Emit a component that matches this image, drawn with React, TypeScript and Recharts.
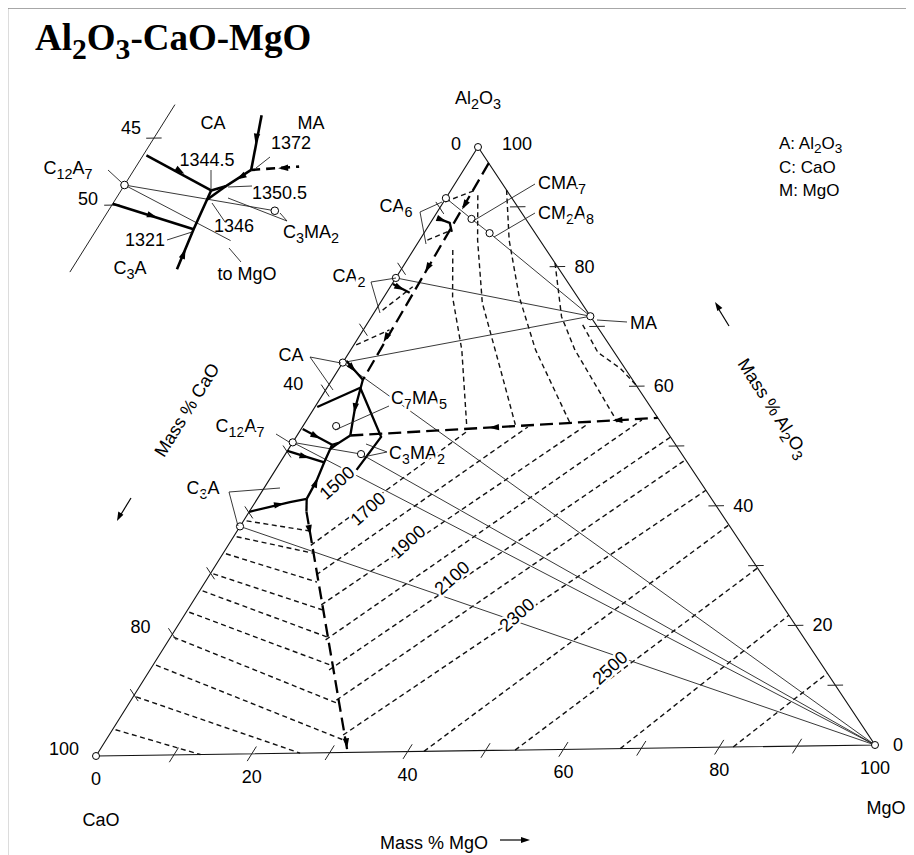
import React from 'react';
import { ScatterChart, Scatter, XAxis, YAxis } from 'recharts';

// A composition is [mass % MgO, mass % Al2O3]; CaO is the remainder.
type Comp = [number, number];

// ---------- geometry of the ternary drawing ----------
const PX_X = 779; // pixels per unit along CaO -> MgO
const PX_Y = 609; // pixels per unit of Al2O3 height
const SKEW = 382 / 779; // horizontal offset of the Al2O3 corner
const TILT = 11 / 609; // the MgO corner sits slightly higher than CaO
const CHART_W = 898;
const CHART_H = 840;
const CAO_X = 88; // CaO corner inside the chart box
const CAO_Y = 748;
const X_LO = -CAO_X / PX_X;
const X_HI = X_LO + CHART_W / PX_X;
const Y_HI = CAO_Y / PX_Y;
const Y_LO = Y_HI - CHART_H / PX_Y;

const toXY = ([m, a]: Comp) => ({ x: (m + SKEW * a) / 100, y: (a + TILT * m) / 100 });
const pagePx = (c: Comp) => {
  const p = toXY(c);
  return { x: 8 + CAO_X + p.x * PX_X, y: 8 + CAO_Y - p.y * PX_Y };
};

// ---------- data ----------
const corners: Comp[] = [[0, 0], [100, 0], [0, 100]];

const compoundNames = ['CA6', 'CMA7', 'CM2A8', 'CA2', 'MA', 'CA', 'C7MA5', 'C12A7', 'C3MA2', 'C3A'];
const compoundComps: Comp[] = [
  [0, 91.6], [5.0, 88.1], [8.5, 85.7], [0, 78.5], [28.3, 71.7],
  [0, 64.6], [4.3, 54.1], [0, 51.5], [9.8, 49.4], [0, 37.7],
];

const tickValues = [10, 20, 30, 40, 50, 60, 70, 80, 90];
const mgoTickLabels = [0, 20, 40, 60, 80, 100];
const al2o3TickLabels = [20, 40, 60, 80];
const caoTickLabels = [100, 80, 40];

// compatibility joins
const tieLines: Comp[][] = [
  [[0, 91.6], [5.0, 88.1], [8.5, 85.7], [28.3, 71.7]],
  [[0, 78.5], [28.3, 71.7]],
  [[0, 64.6], [28.3, 71.7]],
  [[0, 64.6], [100, 0]],
  [[0, 51.5], [100, 0]],
  [[9.8, 49.4], [100, 0]],
  [[0, 37.7], [100, 0]],
  [[0, 51.5], [9.8, 49.4]],
];

// field boundaries, heavy solid
const boundarySolid: Comp[][] = [
  [[0, 40.1], [4.5, 41.6], [6.4, 42.1]],
  [[6.4, 42.1], [7.4, 40.0]],
  [[6.4, 42.1], [6.2, 45.1], [5.7, 48.1], [5.4, 50.3], [5.3, 51.0]],
  [[0, 50.1], [5.7, 48.1]],
  [[0.2, 53.7], [5.3, 51.0]],
  [[5.3, 51.0], [6.0, 51.3], [6.9, 52.5]],
  [[5.4, 50.3], [6.0, 51.3]],
  [[6.9, 52.5], [5.4, 56.7], [4.0, 61.7]],
  [[0.3, 57.3], [4.3, 60.4]],
  [[4.3, 60.4], [11.0, 52.2], [10.5, 46.8]],
  [[0.3, 64.9], [4.0, 61.7]],
  [[0.5, 88.3], [2.5, 87.5], [3.5, 86.0]],
  [[0.1, 77.5], [3.0, 76.0]],
];

// field boundaries, heavy dashed
const boundaryDashed: Comp[][] = [
  [[2.7, 97.3], [4.0, 61.7]],
  [[6.9, 52.5], [45.3, 54.7]],
  [[7.4, 40.0], [32.3, 0]],
];

// direction arrows on boundaries: [position, a point further along]
const arrowsMain: [Comp, Comp][] = [
  [[9.5, 36.6], [32.3, 0]],
  [[31.6, 1.2], [32.3, 0]],
  [[24.6, 53.5], [6.9, 52.5]],
  [[40.0, 54.4], [24.6, 53.5]],
  [[3.0, 90.1], [4.0, 61.7]],
  [[3.3, 79.8], [4.0, 61.7]],
  [[3.6, 68.3], [4.0, 61.7]],
  [[5.4, 56.7], [6.9, 52.5]],
  [[3.5, 41.3], [6.4, 42.1]],
  [[6.2, 45.1], [5.7, 48.1]],
  [[3.0, 49.0], [5.7, 48.1]],
  [[2.8, 52.3], [5.3, 51.0]],
  [[1.5, 87.9], [2.5, 87.5]],
  [[1.6, 76.7], [3.0, 76.0]],
  [[2.0, 63.4], [4.0, 61.7]],
];

// liquidus isotherms, CaO field
const isoCaO: Comp[][] = [
  [[0.4, 38.6], [9.3, 36.8]],
  [[0.4, 36.0], [11.6, 33.1]],
  [[0.4, 33.2], [14.5, 28.3]],
  [[0.4, 29.9], [17.4, 23.7]],
  [[0.4, 27.1], [20.2, 19.2]],
  [[0.4, 23.6], [23.0, 14.5]],
  [[0.4, 19.5], [26.9, 8.2]],
  [[0.4, 14.9], [30.7, 2.1]],
  [[0.4, 9.7], [26.2, 0]],
  [[0.4, 4.3], [13.4, 0]],
];

// liquidus isotherms, MgO field
const isoMgO: Comp[][] = [
  [[10.7, 34.4], [21.8, 53.1]],
  [[13.8, 29.5], [29.2, 53.5]],
  [[16.9, 24.5], [36.7, 53.8]],
  [[20.3, 18.7], [43.4, 54.4]],
  [[23.2, 13.7], [48.5, 51.5]],
  [[26.6, 8.7], [52.3, 47.7]],
  [[30.3, 2.9], [57.4, 42.6]],
  [[42.1, 0], [63.2, 36.8]],
  [[53.8, 0], [70.4, 29.6]],
  [[67.3, 0], [78.3, 21.7]],
  [[81.8, 0], [88.0, 12.0]],
];

// liquidus isotherms, spinel and aluminate fields
const isoOther: Comp[][] = [
  [[5.1, 83.0], [8.9, 75.2], [14.4, 66.4], [21.1, 54.0]],
  [[3.9, 92.0], [7.5, 84.6], [13.2, 74.2], [21.4, 62.5], [27.4, 53.9]],
  [[7.2, 92.8], [11.6, 84.5], [17.5, 75.1], [23.9, 66.3], [34.3, 54.1]],
  [[19.4, 80.6], [24.6, 71.7], [29.0, 66.2], [40.4, 54.1]],
  [[28.0, 70.3], [32.2, 65.7], [36.4, 63.0], [39.8, 60.2]],
  [[0.2, 91.0], [3.1, 92.8]],
  [[1.0, 84.7], [3.3, 86.3]],
  [[0.9, 73.2], [2.9, 77.0]],
  [[0.3, 67.5], [3.4, 69.9]],
];

// detail of the low-melting region around C12A7 (drawn enlarged)
const insetEdge: Comp[] = [[0, 57.5], [0, 45.0]];
const insetTicks: Comp[][] = [
  [[-0.45, 55], [0.45, 55]],
  [[-0.45, 50], [0.45, 50]],
];
const insetCompounds: Comp[] = [[0, 51.5], [9.8, 49.4]];
const insetSolid: Comp[][] = [
  [[0.2, 53.7], [5.3, 51.0]],
  [[0, 50.1], [5.7, 48.1]],
  [[6.2, 45.1], [5.7, 48.1], [5.4, 50.3], [5.3, 51.0]],
  [[5.3, 51.0], [6.0, 51.3], [6.9, 52.5]],
  [[5.4, 50.3], [6.0, 51.3]],
  [[6.9, 52.5], [5.5, 56.6]],
];
const insetDashed: Comp[][] = [[[6.9, 52.5], [9.6, 52.7]]];
const insetThin: Comp[][] = [
  [[0, 51.5], [9.8, 49.4]],
  [[0, 51.5], [8.3, 47.2]],
];
const insetArrows: [Comp, Comp][] = [
  [[2.9, 52.4], [5.3, 51.0]],
  [[2.9, 49.1], [5.7, 48.1]],
  [[6.0, 46.4], [5.7, 48.1]],
  [[6.1, 54.7], [6.9, 52.5]],
  [[6.5, 51.9], [6.0, 51.3]],
  [[8.6, 52.6], [6.9, 52.5]],
];

// inset placement
const INSET_K = 2.2;
const INSET_W = 340;
const INSET_H = 300;
const INSET_ANCHOR = { x: 124.5, y: 185 }; // page position of C12A7 in the detail
const c12a7Page = pagePx([0, 51.5]);
const IX_LO = (c12a7Page.x - INSET_ANCHOR.x / INSET_K - 8 - CAO_X) / PX_X;
const IX_HI = IX_LO + INSET_W / (INSET_K * PX_X);
const IY_HI = (8 + CAO_Y - (c12a7Page.y - INSET_ANCHOR.y / INSET_K)) / PX_Y;
const IY_LO = IY_HI - INSET_H / (INSET_K * PX_Y);

// ---------- drawing helpers ----------
const FONT = '"Liberation Sans", Arial, Helvetica, sans-serif';
const noShape = () => <g />;

const arrowData = (list: [Comp, Comp][]) =>
  list.map(([p, q]) => {
    const a = toXY(p);
    const b = toXY(q);
    const ang = (Math.atan2(-(b.y - a.y) * PX_Y, (b.x - a.x) * PX_X) * 180) / Math.PI;
    return { ...a, ang };
  });

const ArrowShape = (props: any) => {
  const { cx, cy, payload } = props;
  return (
    <path
      d="M3,0 L-7,-3.2 L-7,3.2 Z"
      transform={`translate(${cx},${cy}) rotate(${payload.ang})`}
      fill="#000"
    />
  );
};

const OpenCircle = (r: number, sw: number) => (props: any) => (
  <circle cx={props.cx} cy={props.cy} r={r} fill="#fff" stroke="#000" strokeWidth={sw} />
);

const line = (pts: Comp[], key: string, style: Record<string, any>) => (
  <Scatter
    key={key}
    data={pts.map(toXY)}
    line={{ fill: 'none', ...style }}
    shape={noShape}
    isAnimationActive={false}
  />
);

const THIN = { stroke: '#222', strokeWidth: 0.9 };
const ISO = { stroke: '#111', strokeWidth: 1.4, strokeDasharray: '5 3.5' };
const HEAVY = { stroke: '#000', strokeWidth: 2.3 };
const HEAVY_DASH = { stroke: '#000', strokeWidth: 2.3, strokeDasharray: '13 6' };
const TICK = { stroke: '#222', strokeWidth: 1 };

// text with chemical subscripts written as _{..}
function Chem(props: {
  x: number; y: number; t: string; size?: number; anchor?: 'start' | 'middle' | 'end';
  rot?: number; halo?: boolean; weight?: string | number; family?: string;
}) {
  const { x, y, t, size = 18, anchor = 'middle', rot = 0, halo = false, weight = 'normal', family = FONT } = props;
  const parts = t.split(/(_\{[^}]*\})/).filter(Boolean);
  const sub = size * 0.32;
  let shift = 0;
  const spans = parts.map((p, i) => {
    if (p.startsWith('_{')) {
      const el = (
        <tspan key={i} dy={sub - shift} fontSize={size * 0.8}>
          {p.slice(2, -1)}
        </tspan>
      );
      shift = sub;
      return el;
    }
    const el = (
      <tspan key={i} dy={-shift}>
        {p}
      </tspan>
    );
    shift = 0;
    return el;
  });
  return (
    <text
      x={x}
      y={y}
      fontSize={size}
      fontFamily={family}
      fontWeight={weight}
      textAnchor={anchor}
      dominantBaseline="central"
      transform={rot ? `rotate(${rot} ${x} ${y})` : undefined}
      fill="#000"
      stroke={halo ? '#fff' : undefined}
      strokeWidth={halo ? 5 : undefined}
      paintOrder={halo ? 'stroke' : undefined}
    >
      {spans}
    </text>
  );
}

// ---------- annotation layout (page pixels) ----------
const compoundLabels: { t: string; x: number; y: number; anchor?: 'start' | 'middle' | 'end' }[] = [
  { t: 'CA_{6}', x: 396, y: 206 },
  { t: 'CMA_{7}', x: 538, y: 183, anchor: 'start' },
  { t: 'CM_{2}A_{8}', x: 538, y: 213, anchor: 'start' },
  { t: 'CA_{2}', x: 349, y: 276 },
  { t: 'MA', x: 630, y: 323, anchor: 'start' },
  { t: 'CA', x: 291, y: 355 },
  { t: 'C_{7}MA_{5}', x: 391, y: 398, anchor: 'start' },
  { t: 'C_{12}A_{7}', x: 240, y: 426 },
  { t: 'C_{3}MA_{2}', x: 389, y: 453, anchor: 'start' },
  { t: 'C_{3}A', x: 203, y: 488 },
];
const leaders: [number, number][][] = [
  [[442, 202], [420, 212], [426, 244]],
  [[535, 184], [473, 221]],
  [[535, 213], [494, 237]],
  [[396, 278], [371, 282], [380, 313]],
  [[627, 322], [597, 320]],
  [[341, 363], [310, 357], [333, 390]],
  [[389, 406], [335, 430]],
  [[276, 434], [289, 442]],
  [[387, 452], [363, 457]],
  [[387, 452], [366, 444]],
  [[238, 526], [229, 492], [280, 488]],
  // detail panel
  [[108, 170], [121, 182]],
  [[211, 170], [211, 190]],
  [[252, 186], [228, 187]],
  [[225, 222], [212, 203]],
  [[167, 240], [192, 232]],
  [[270, 157], [256, 168]],
  [[287, 221], [280, 213]],
  [[287, 221], [228, 198]],
  [[229, 248], [241, 262]],
];
const isoLabels: { t: string; x: number; y: number }[] = [
  { t: '1500', x: 337, y: 483 },
  { t: '1700', x: 368, y: 509 },
  { t: '1900', x: 408, y: 542 },
  { t: '2100', x: 452, y: 578 },
  { t: '2300', x: 517, y: 615 },
  { t: '2500', x: 610, y: 668 },
];
const insetLabels: { t: string; x: number; y: number; anchor?: 'start' | 'middle' | 'end' }[] = [
  { t: '45', x: 131, y: 128 },
  { t: '50', x: 88, y: 199 },
  { t: 'CA', x: 213, y: 123 },
  { t: 'MA', x: 311, y: 123 },
  { t: 'C_{12}A_{7}', x: 68, y: 168 },
  { t: '1372', x: 271, y: 143, anchor: 'start' },
  { t: '1344.5', x: 207, y: 160 },
  { t: '1350.5', x: 252, y: 193, anchor: 'start' },
  { t: '1346', x: 214, y: 226, anchor: 'start' },
  { t: '1321', x: 145, y: 240 },
  { t: 'C_{3}MA_{2}', x: 283, y: 232, anchor: 'start' },
  { t: 'C_{3}A', x: 130, y: 268 },
  { t: 'to MgO', x: 247, y: 274 },
];

export default function App() {
  const tickSegs: Comp[][] = [];
  tickValues.forEach((v) => {
    tickSegs.push([[v, -1.2], [v, 1.2]]);
    tickSegs.push([[100 - v - 1.0, v], [100 - v + 1.0, v]]);
    tickSegs.push([[-1.0, 100 - v + 1.0], [1.0, 100 - v - 1.0]]);
  });

  const apex = pagePx([0, 100]);
  const caoC = pagePx([0, 0]);
  const mgoC = pagePx([100, 0]);

  return (
    <div style={{ position: 'relative', width: CHART_W, height: 847 }}>
      <ScatterChart width={CHART_W} height={CHART_H} margin={{ top: 0, right: 0, bottom: 0, left: 0 }}>
        <XAxis type="number" dataKey="x" domain={[X_LO, X_HI]} hide />
        <YAxis type="number" dataKey="y" domain={[Y_LO, Y_HI]} hide />
        {isoCaO.map((p, i) => line(p, `ic${i}`, ISO))}
        {isoMgO.map((p, i) => line(p, `im${i}`, ISO))}
        {isoOther.map((p, i) => line(p, `io${i}`, ISO))}
        {tieLines.map((p, i) => line(p, `t${i}`, THIN))}
        {line([corners[0], corners[1], corners[2], corners[0]], 'frame', { stroke: '#111', strokeWidth: 1.1 })}
        {tickSegs.map((p, i) => line(p, `k${i}`, TICK))}
        {boundaryDashed.map((p, i) => line(p, `bd${i}`, HEAVY_DASH))}
        {boundarySolid.map((p, i) => line(p, `bs${i}`, HEAVY))}
        <Scatter data={arrowData(arrowsMain)} shape={ArrowShape} isAnimationActive={false} />
        <Scatter data={corners.map(toXY)} shape={OpenCircle(3.5, 1)} isAnimationActive={false} />
        <Scatter data={compoundComps.map(toXY)} shape={OpenCircle(3.6, 1)} isAnimationActive={false} />
      </ScatterChart>

      <div style={{ position: 'absolute', left: -8, top: -8 }}>
        <ScatterChart width={INSET_W} height={INSET_H} margin={{ top: 0, right: 0, bottom: 0, left: 0 }}>
          <XAxis type="number" dataKey="x" domain={[IX_LO, IX_HI]} hide />
          <YAxis type="number" dataKey="y" domain={[IY_LO, IY_HI]} hide />
          {line(insetEdge, 'ie', { stroke: '#222', strokeWidth: 1 })}
          {insetTicks.map((p, i) => line(p, `it${i}`, TICK))}
          {insetThin.map((p, i) => line(p, `ith${i}`, THIN))}
          {insetDashed.map((p, i) => line(p, `id${i}`, { stroke: '#000', strokeWidth: 2.6, strokeDasharray: '9 6' }))}
          {insetSolid.map((p, i) => line(p, `is${i}`, { stroke: '#000', strokeWidth: 2.6 }))}
          <Scatter data={arrowData(insetArrows)} shape={ArrowShape} isAnimationActive={false} />
          <Scatter data={insetCompounds.map(toXY)} shape={OpenCircle(3.8, 1)} isAnimationActive={false} />
        </ScatterChart>
      </div>

      <svg
        width={914}
        height={855}
        style={{ position: 'absolute', left: -8, top: -8, pointerEvents: 'none' }}
      >
        <line x1={7} y1={8} x2={914} y2={8} stroke="#8a8a8a" strokeWidth={1.6} />
        <line x1={7.5} y1={8} x2={7.5} y2={855} stroke="#8a8a8a" strokeWidth={1.6} />

        <Chem x={35} y={37} t="Al_{2}O_{3}-CaO-MgO" size={37} anchor="start" weight="bold" family='"Liberation Serif", "Times New Roman", serif' />

        {leaders.map((pts, i) => (
          <polyline key={i} points={pts.map((p) => p.join(',')).join(' ')} fill="none" stroke="#222" strokeWidth={0.9} />
        ))}

        <Chem x={apex.x} y={apex.y - 49} t="Al_{2}O_{3}" />
        <Chem x={apex.x - 22} y={apex.y - 3} t="0" />
        <Chem x={apex.x + 39} y={apex.y - 3} t="100" />
        {mgoTickLabels.map((v) => {
          const p = pagePx([v, 0]);
          return <Chem key={`b${v}`} x={p.x} y={p.y + 23} t={String(v)} />;
        })}
        {al2o3TickLabels.map((v) => {
          const p = pagePx([100 - v, v]);
          return <Chem key={`r${v}`} x={p.x + 27} y={p.y} t={String(v)} />;
        })}
        <Chem x={mgoC.x + 23} y={mgoC.y} t="0" />
        {caoTickLabels.map((v) => {
          const p = pagePx([0, 100 - v]);
          return <Chem key={`l${v}`} x={p.x - 32} y={p.y - 7} t={String(v)} />;
        })}
        <Chem x={caoC.x + 5} y={caoC.y + 64} t="CaO" />
        <Chem x={mgoC.x + 11} y={mgoC.y + 63} t="MgO" />

        <Chem x={434} y={843} t="Mass  %  MgO" />
        <line x1={500} y1={840} x2={524} y2={840} stroke="#000" strokeWidth={1.2} />
        <path d="M530,840 L521,837 L521,843 Z" fill="#000" />

        <Chem x={187} y={410} t="Mass  %  CaO" rot={-58} />
        <line x1={131} y1={498} x2={120} y2={516} stroke="#000" strokeWidth={1.2} />
        <path d="M117,521 L118.3,511.6 L123.4,514.8 Z" fill="#000" />

        <Chem x={773} y={408} t="Mass  %  Al_{2}O_{3}" rot={57} />
        <line x1={729} y1={326} x2={718} y2={308} stroke="#000" strokeWidth={1.2} />
        <path d="M715,302 L722.4,307.9 L717.3,311.1 Z" fill="#000" />

        <Chem x={779} y={143} t="A:  Al_{2}O_{3}" size={17} anchor="start" />
        <Chem x={779} y={167} t="C:  CaO" size={17} anchor="start" />
        <Chem x={779} y={190} t="M:  MgO" size={17} anchor="start" />

        {compoundLabels.map((l, i) => (
          <Chem key={`c${i}`} x={l.x} y={l.y} t={l.t} anchor={l.anchor} halo />
        ))}
        {isoLabels.map((l, i) => (
          <Chem key={`i${i}`} x={l.x} y={l.y} t={l.t} rot={-42} halo />
        ))}
        {insetLabels.map((l, i) => (
          <Chem key={`n${i}`} x={l.x} y={l.y} t={l.t} anchor={l.anchor} />
        ))}
      </svg>
    </div>
  );
}
